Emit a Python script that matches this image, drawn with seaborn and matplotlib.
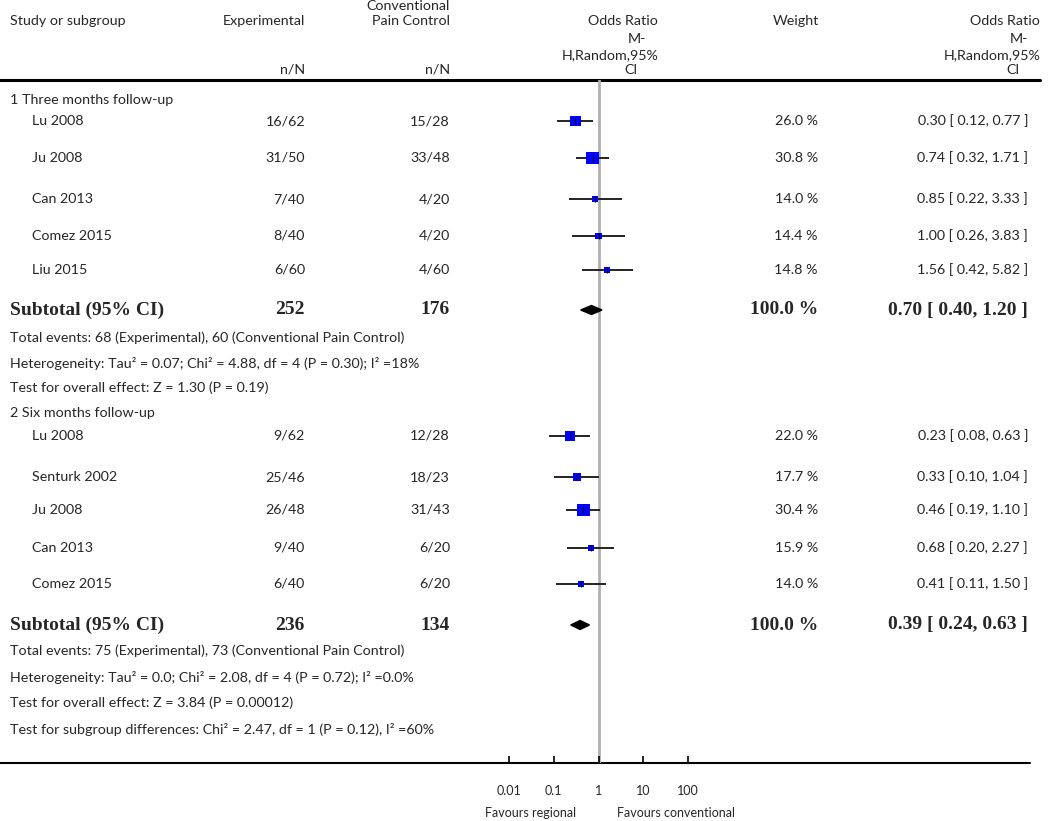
import matplotlib
matplotlib.use('Agg')
import matplotlib.pyplot as plt
import seaborn as sns, numpy as np, pandas as pd

### data

studies_1   = ['Lu 2008', 'Ju 2008', 'Can 2013', 'Comez 2015', 'Liu 2015']
exp_ev_1    = [16, 31, 7, 8, 6]
exp_n_1     = [62, 50, 40, 40, 60]
ctl_ev_1    = [15, 33, 4, 4, 4]
ctl_n_1     = [28, 48, 20, 20, 60]
weight_1    = [26.0, 30.8, 14.0, 14.4, 14.8]
or_1        = [0.30, 0.74, 0.85, 1.00, 1.56]
lo_1        = [0.12, 0.32, 0.22, 0.26, 0.42]
hi_1        = [0.77, 1.71, 3.33, 3.83, 5.82]
sub_1       = dict(exp=252, ctl=176, orr=0.70, lo=0.40, hi=1.20)

studies_2   = ['Lu 2008', 'Senturk 2002', 'Ju 2008', 'Can 2013', 'Comez 2015']
exp_ev_2    = [9, 25, 26, 9, 6]
exp_n_2     = [62, 46, 48, 40, 40]
ctl_ev_2    = [12, 18, 31, 6, 6]
ctl_n_2     = [28, 23, 43, 20, 20]
weight_2    = [22.0, 17.7, 30.4, 15.9, 14.0]
or_2        = [0.23, 0.33, 0.46, 0.68, 0.41]
lo_2        = [0.08, 0.10, 0.19, 0.20, 0.11]
hi_2        = [0.63, 1.04, 1.10, 2.27, 1.50]
sub_2       = dict(exp=236, ctl=134, orr=0.39, lo=0.24, hi=0.63)

notes_1 = ['Total events: 68 (Experimental), 60 (Conventional Pain Control)',
           'Heterogeneity: Tau² = 0.07; Chi² = 4.88, df = 4 (P = 0.30); I² =18%',
           'Test for overall effect: Z = 1.30 (P = 0.19)']
notes_2 = ['Total events: 75 (Experimental), 73 (Conventional Pain Control)',
           'Heterogeneity: Tau² = 0.0; Chi² = 2.08, df = 4 (P = 0.72); I² =0.0%',
           'Test for overall effect: Z = 3.84 (P = 0.00012)',
           'Test for subgroup differences: Chi² = 2.47, df = 1 (P = 0.12), I² =60%']

ticks       = [0.01, 0.1, 1, 10, 100]
tick_labels = ['0.01', '0.1', '1', '10', '100']

### layout (pixel rows)

W, H = 1050, 821
rows_1, sub_row_1, note_rows_1, grp_row_1 = [121, 158, 199, 236, 270], 310, [338, 363, 388], 100
rows_2, sub_row_2, note_rows_2, grp_row_2 = [436, 477, 510, 548, 584], 625, [651, 677, 703, 729], 413
top_line, axis_line = 80, 763
x_exp, x_ctl, x_w, x_ci = 305, 450, 818, 1028

sns.set_style('white')
plt.rcParams['font.family'] = ['Lato', 'DejaVu Sans']
fs = 10.3
bold = dict(family=['Liberation Serif', 'DejaVu Serif'], fontweight='bold', fontsize=14)

fig = plt.figure(figsize=(W / 100, H / 100), dpi=100)
tx = fig.add_axes([0, 0, 1, 1])
tx.set_xlim(0, W); tx.set_ylim(H, 0); tx.axis('off')

# forest axes: 1e-3 .. 1e3 over pixels 464..733
fx0, fx1 = 464, 733
ax = fig.add_axes([fx0 / W, 1 - axis_line / H, (fx1 - fx0) / W, (axis_line - top_line) / H])
ax.set_xscale('log')
ax.set_xlim(1e-3, 1e3)
ax.set_ylim(axis_line, top_line)
ax.patch.set_alpha(0)
for s in ax.spines.values(): s.set_visible(False)

# header
hdr = dict(fontsize=fs, va='center')
tx.text(10, 21, 'Study or subgroup', ha='left', **hdr)
tx.text(x_exp, 21, 'Experimental', ha='right', **hdr)
tx.text(x_ctl, 6, 'Conventional', ha='right', **hdr)
tx.text(x_ctl, 21, 'Pain Control', ha='right', **hdr)
tx.text(x_exp, 70, 'n/N', ha='right', **hdr)
tx.text(x_ctl, 70, 'n/N', ha='right', **hdr)
for xr in (658, 1040):
    tx.text(xr, 21, 'Odds Ratio', ha='right', **hdr)
    tx.text(xr - 12, 39, 'M-', ha='right', **hdr)
    tx.text(xr + 1, 55, 'H,Random,95%', ha='right', **hdr)
    tx.text(xr - 20, 70, 'CI', ha='right', **hdr)
tx.text(796, 21, 'Weight', ha='center', **hdr)
tx.plot([0, 1040], [top_line, top_line], color='black', lw=2.2)
tx.plot([0, 1030], [axis_line, axis_line], color='black', lw=1.5)
tx.text(531, 813, 'Favours regional', ha='center', va='center', fontsize=9)
tx.text(676, 813, 'Favours conventional', ha='center', va='center', fontsize=9)

ax.axvline(1, color='#b0b0b0', lw=2, zorder=0)


def draw_group(title, grp_row, names, ee, en, ce, cn, w, orr, lo, hi, rows, sub, sub_row, notes, note_rows):
    tx.text(10, grp_row, title, ha='left', va='center', fontsize=fs)
    for i, n in enumerate(names):
        y = rows[i]
        tx.text(32, y, n, ha='left', va='center', fontsize=fs)
        tx.text(x_exp, y, f'{ee[i]}/{en[i]}', ha='right', va='center', fontsize=fs)
        tx.text(x_ctl, y, f'{ce[i]}/{cn[i]}', ha='right', va='center', fontsize=fs)
        tx.text(x_w, y, f'{w[i]:.1f} %', ha='right', va='center', fontsize=fs)
        tx.text(x_ci, y, f'{orr[i]:.2f} [ {lo[i]:.2f}, {hi[i]:.2f} ]', ha='right', va='center', fontsize=fs)
    ax.hlines(rows, lo, hi, color='#222222', lw=1.4, zorder=2)
    df = pd.DataFrame({'orr': orr, 'row': rows, 'weight': w})
    sizes = {v: (v * 0.42 * 0.72) ** 2 for v in w}
    sns.scatterplot(data=df, x='orr', y='row', size='weight', sizes=sizes, marker='s',
                    color='#0000ff', edgecolor='none', legend=False, ax=ax, zorder=3)
    ax.scatter(orr, rows, marker='|', s=16, color='black', lw=0.8, zorder=4)
    # subtotal
    tx.text(10, sub_row, 'Subtotal (95% CI)', ha='left', va='center', **bold)
    tx.text(x_exp, sub_row, str(sub['exp']), ha='right', va='center', **bold)
    tx.text(x_ctl, sub_row, str(sub['ctl']), ha='right', va='center', **bold)
    tx.text(x_w, sub_row, '100.0 %', ha='right', va='center', **bold)
    tx.text(x_ci, sub_row, f"{sub['orr']:.2f} [ {sub['lo']:.2f}, {sub['hi']:.2f} ]", ha='right', va='center', **bold)
    ax.fill([sub['lo'], sub['orr'], sub['hi'], sub['orr']],
            [sub_row, sub_row - 4.5, sub_row, sub_row + 4.5], color='black', zorder=3)
    for t, y in zip(notes, note_rows):
        tx.text(10, y, t, ha='left', va='center', fontsize=fs)


draw_group('1 Three months follow-up', grp_row_1, studies_1, exp_ev_1, exp_n_1, ctl_ev_1, ctl_n_1,
           weight_1, or_1, lo_1, hi_1, rows_1, sub_1, sub_row_1, notes_1, note_rows_1)
draw_group('2 Six months follow-up', grp_row_2, studies_2, exp_ev_2, exp_n_2, ctl_ev_2, ctl_n_2,
           weight_2, or_2, lo_2, hi_2, rows_2, sub_2, sub_row_2, notes_2, note_rows_2)

ax.set_xlabel(''); ax.set_ylabel('')
ax.set_yticks([])
ax.set_xticks(ticks, tick_labels, fontsize=9)
ax.minorticks_off()
ax.tick_params(axis='x', direction='in', length=5, width=1.2, pad=16, bottom=True, color='black')

fig.savefig('out.png', dpi=100)
